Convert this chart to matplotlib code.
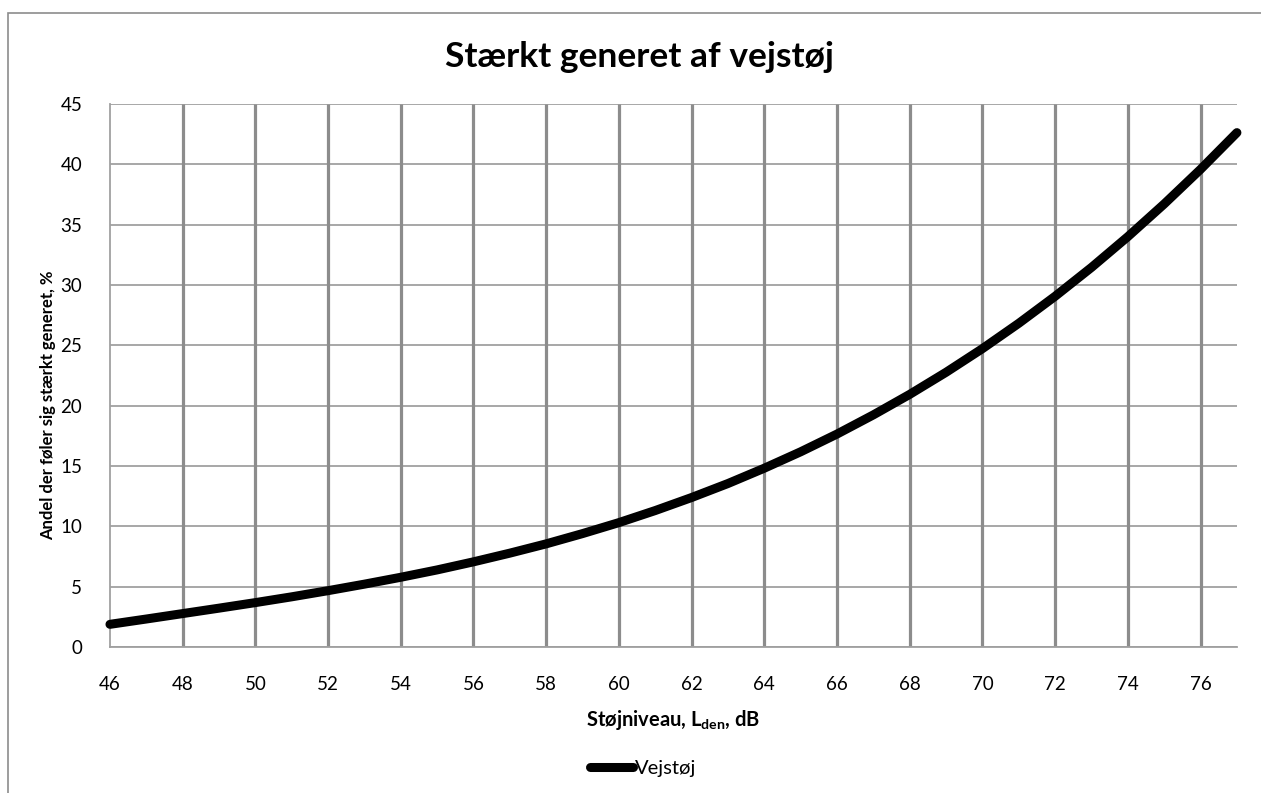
import numpy as np
import matplotlib.pyplot as plt
from matplotlib.patches import Rectangle

plt.rcParams['font.family'] = ['Lato', 'DejaVu Sans']
plt.rcParams['mathtext.fontset'] = 'custom'
plt.rcParams['mathtext.rm'] = 'Lato'
plt.rcParams['mathtext.bf'] = 'Lato:bold'

# andel stærkt generede ved vejstøj, aflæst pr. dB
L_den = [46, 47, 48, 49, 50, 51, 52, 53, 54, 55, 56, 57, 58, 59, 60, 61,
         62, 63, 64, 65, 66, 67, 68, 69, 70, 71, 72, 73, 74, 75, 76, 77]
andel = [1.88, 2.32, 2.77, 3.22, 3.68, 4.16, 4.67, 5.21, 5.78, 6.39, 7.06,
         7.78, 8.55, 9.40, 10.31, 11.31, 12.39, 13.55, 14.82, 16.18, 17.65,
         19.24, 20.94, 22.77, 24.73, 26.83, 29.07, 31.46, 34.01, 36.72,
         39.59, 42.63]

x_ticks = list(range(46, 77, 2))
y_ticks = list(range(0, 46, 5))

fig = plt.figure(figsize=(12.61, 7.93), dpi=100)
ax = fig.add_axes([0.0872, 0.1841, 0.8937, 0.6847])

grid_col = '#8c8c8c'
ax.set_xlim(46, 77)
ax.set_ylim(0, 45)
ax.set_xticks(x_ticks)
ax.set_yticks(y_ticks)
ax.tick_params(length=0, labelsize=13.5, pad=20)
ax.tick_params(axis='x', pad=21)
ax.grid(axis='y', color='#a0a0a0', lw=1.3)
ax.vlines(x_ticks[1:], 0, 45, color=grid_col, lw=2.3, zorder=1)
for s in ['top', 'right']:
    ax.spines[s].set_visible(False)
for s in ['left', 'bottom']:
    ax.spines[s].set_color('#a0a0a0')
    ax.spines[s].set_linewidth(1.3)
ax.set_axisbelow(True)

line, = ax.plot(L_den, andel, color='black', lw=6.5, solid_capstyle='round',
                clip_on=False, zorder=3, label='Vejstøj')

ax.set_xlabel(r'Støjniveau, $\mathbf{L_{den}}$, dB', fontsize=14.5,
              fontweight='bold', labelpad=11)
ax.set_ylabel('Andel der føler sig stærkt generet, %', fontsize=12,
              fontweight='bold')
ax.yaxis.set_label_coords(-0.048, 0.445)
fig.text(0.5075, 1 - 57 / 793, 'Stærkt generet af vejstøj', ha='center',
         va='center', fontsize=25.5, fontweight='bold')

fig.legend(handles=[line], loc='center', bbox_to_anchor=(0.51, 1 - 768 / 793),
           frameon=False, fontsize=14.5, handlelength=2.1, handletextpad=0.1)

# ramme om diagramområdet
fig.patches.append(Rectangle((8 / 1261, -0.05), 1.1, 1 - 12.5 / 793 + 0.05,
                             transform=fig.transFigure, fill=False,
                             edgecolor='#8c8c8c', lw=1.2))

fig.savefig('out.png', dpi=100)
